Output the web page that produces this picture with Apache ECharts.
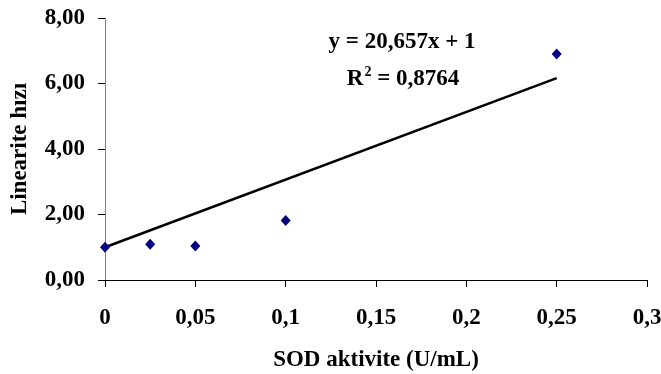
<!DOCTYPE html>
<html><head><meta charset="utf-8">
<script src="https://cdn.jsdelivr.net/npm/echarts@6/dist/echarts.min.js"></script>
<style>html,body{margin:0;padding:0;background:#fff}#c{width:661px;height:374px}</style>
</head><body><div id="c"></div>
<script>
var xValues = [0, 0.025, 0.05, 0.1, 0.25];
var yValues = [1.0, 1.09, 1.04, 1.82, 6.9];
var slope = 20.657, intercept = 1;
var trendX = [0, 0.25];
var equationText = 'y = 20,657x + 1';
var r2Text = '{b|R}{sup|2}{b| = 0,8764}';

var F = '"Liberation Serif", "Times New Roman", serif';
var pts = xValues.map(function(x, i){ return [x, yValues[i]]; });
var trend = trendX.map(function(x){ return [x, slope * x + intercept]; });
function comma(s){ return String(s).replace('.', ','); }

var chart = echarts.init(document.getElementById('c'));
chart.setOption({
  animation: false,
  grid: {left: 105, right: 14, top: 18, bottom: 94, containLabel: false, outerBoundsMode: 'none'},
  xAxis: {
    type: 'value', min: 0, max: 0.3, interval: 0.05,
    name: 'SOD aktivite (U/mL)', nameLocation: 'middle', nameGap: 69,
    nameTextStyle: {fontFamily: F, fontWeight: 'bold', fontSize: 23, color: '#000'},
    axisLine: {lineStyle: {color: '#000', width: 1}},
    axisTick: {show: true, length: 7, lineStyle: {color: '#000'}},
    axisLabel: {fontFamily: F, fontWeight: 'bold', fontSize: 23, color: '#000', margin: 27,
      formatter: function(v){ return comma(parseFloat(v.toFixed(2))); }},
    splitLine: {show: false}
  },
  yAxis: {
    type: 'value', min: 0, max: 8, interval: 2,
    name: 'Linearite hızı', nameLocation: 'middle', nameGap: 73,
    nameTextStyle: {fontFamily: F, fontWeight: 'bold', fontSize: 23, color: '#000'},
    axisLine: {show: true, lineStyle: {color: '#808080', width: 1}},
    axisTick: {show: true, length: 7, lineStyle: {color: '#000'}},
    axisLabel: {fontFamily: F, fontWeight: 'bold', fontSize: 23, color: '#000', margin: 20,
      formatter: function(v){ return v.toFixed(2).replace('.', ','); }},
    splitLine: {show: false}
  },
  series: [
    {type: 'line', data: trend, symbol: 'none', lineStyle: {color: '#000', width: 2.5}, z: 2},
    {type: 'scatter', data: pts, symbol: 'diamond', symbolSize: [10, 11],
     itemStyle: {color: '#000080', opacity: 1}, z: 3}
  ],
  graphic: [
    {type: 'text', style: {text: equationText, x: 402, y: 42, align: 'center', verticalAlign: 'middle',
      font: 'bold 23px ' + F, fill: '#000'}},
    {type: 'text', style: {text: r2Text, x: 403, y: 78, align: 'center', verticalAlign: 'middle',
      fill: '#000',
      rich: {
        b: {fontSize: 23, fontWeight: 'bold', fontFamily: F, color: '#000', verticalAlign: 'bottom', lineHeight: 26},
        sup: {fontSize: 14, fontWeight: 'bold', fontFamily: F, color: '#000', verticalAlign: 'top', lineHeight: 14, padding: [0, 0, 0, 1]}
      }}}
  ]
});
</script></body></html>
